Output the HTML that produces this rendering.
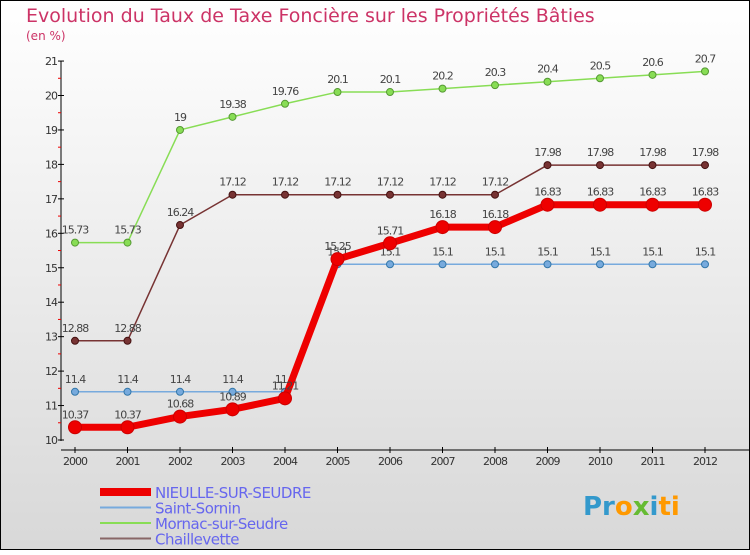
<!DOCTYPE html>
<html><head><meta charset="utf-8"><style>
body{margin:0}
svg text{font-family:"DejaVu Sans","Liberation Sans",sans-serif}
</style></head><body>
<svg width="750" height="550" xmlns="http://www.w3.org/2000/svg">
<defs><linearGradient id="bg" x1="0" y1="0" x2="0" y2="1"><stop offset="0" stop-color="#ffffff"/><stop offset="1" stop-color="#d8d8d8"/></linearGradient></defs>
<rect x="0.5" y="0.5" width="749" height="549" fill="url(#bg)" stroke="#000"/>
<text x="26" y="22" font-size="19" fill="#cc3366">Evolution du Taux de Taxe Foncière sur les Propriétés Bâties</text>
<text x="26" y="40" font-size="12" fill="#cc3366">(en %)</text>
<g id="axes"></g>
<g id="series"></g>
<g id="legend"></g>
<text x="583" y="515" font-size="26" font-weight="bold"><tspan fill="#3399cc">Pr</tspan><tspan fill="#ff9900">o</tspan><tspan fill="#66bb33">x</tspan><tspan fill="#3399cc">i</tspan><tspan fill="#ff9900">ti</tspan></text>
</svg>
<script>
const years=[2000,2001,2002,2003,2004,2005,2006,2007,2008,2009,2010,2011,2012];
const yTicks=[10,11,12,13,14,15,16,17,18,19,20,21];
const nieulle=[10.37,10.37,10.68,10.89,11.21,15.25,15.71,16.18,16.18,16.83,16.83,16.83,16.83];
const sornin=[11.4,11.4,11.4,11.4,11.4,15.1,15.1,15.1,15.1,15.1,15.1,15.1,15.1];
const mornac=[15.73,15.73,19,19.38,19.76,20.1,20.1,20.2,20.3,20.4,20.5,20.6,20.7];
const chail=[12.88,12.88,16.24,17.12,17.12,17.12,17.12,17.12,17.12,17.98,17.98,17.98,17.98];
const NS="http://www.w3.org/2000/svg";
const X=i=>75+i*52.5, Y=v=>440-(v-10)*34.45;
function mk(t,a,p){const e=document.createElementNS(NS,t);for(const k in a)e.setAttribute(k,a[k]);p.appendChild(e);return e;}
const ax=document.getElementById('axes');
let l=mk('line',{x1:61,y1:61,x2:61,y2:441,stroke:'#000'},ax);


l=mk('line',{x1:61,y1:450,x2:750,y2:450,stroke:'#000'},ax);


yTicks.forEach(v=>{
 mk('line',{x1:58,y1:Y(v),x2:64,y2:Y(v),stroke:'#000'},ax);
 if(v<21){mk('line',{x1:58,y1:Y(v+0.5),x2:61,y2:Y(v+0.5),stroke:'#e00'},ax);}
 const t=mk('text',{x:57,y:Y(v)+4,'font-size':11,'text-anchor':'end',fill:'#333','letter-spacing':'-1'},ax);
 t.textContent=v;
 
 
});
years.forEach((y,i)=>{
 mk('line',{x1:X(i),y1:447,x2:X(i),y2:453,stroke:'#000'},ax);
 const t=mk('text',{x:X(i),y:465,'font-size':11,'text-anchor':'middle',fill:'#333','letter-spacing':'-1'},ax);
 t.textContent=y;
 
 
});
const sg=document.getElementById('series');
function draw(vals,color,w,r,name,dark){
 const g=mk('g',{},sg);
 
 
 mk('polyline',{points:vals.map((v,i)=>X(i)+','+Y(v)).join(' '),fill:'none',stroke:color,'stroke-width':w,'stroke-linejoin':'round'},g);
 vals.forEach((v,i)=>{
  const c=mk('circle',{cx:X(i),cy:Y(v),r:r,fill:color,stroke:dark,'stroke-width':1},g);
  
  
  const t=mk('text',{x:X(i),y:Y(v)-9,'font-size':11,'text-anchor':'middle',fill:'#444','letter-spacing':'-1'},g);
  t.textContent=v;
  
  
 });
}
draw(mornac,'#88dd55',1.5,3.5,'mornac-series','#559933');
draw(chail,'#773333',1.5,3.5,'chaillevette-series','#441111');
draw(sornin,'#77aadd',1.5,3.5,'saint-sornin-series','#3377aa');
draw(nieulle,'#ee0000',7,6.5,'nieulle-series','#cc0000');
const lg=document.getElementById('legend');
const lnames=['NIEULLE-SUR-SEUDRE','Saint-Sornin','Mornac-sur-Seudre','Chaillevette'];
const lcolors=['#ee0000','#77aadd','#88dd55','#886666'];
const lw=[8,2,2,2];
lnames.forEach((n,i)=>{
 const y=492+i*15.5;
 const g=mk('g',{},lg);
 
 
 mk('line',{x1:100,y1:y,x2:151,y2:y,stroke:lcolors[i],'stroke-width':lw[i]},g);
 const t=mk('text',{x:155,y:y+6,'font-size':15,fill:'#6666ee','letter-spacing':'-0.5'},g);
 t.textContent=n;
});
</script>
</body></html>
